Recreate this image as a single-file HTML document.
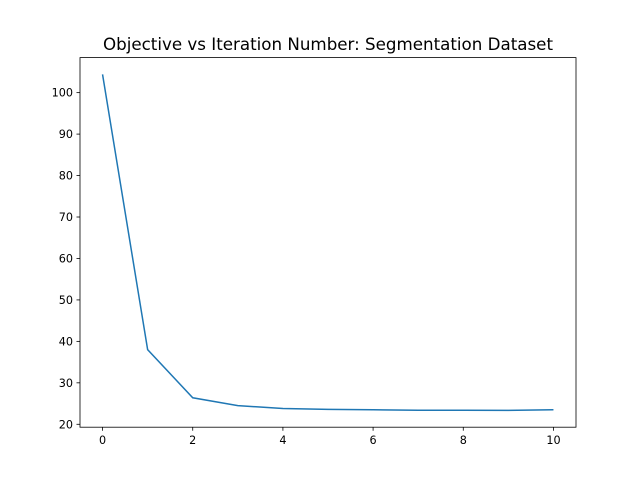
<!DOCTYPE html>
<html><head><meta charset="utf-8"><style>
body{margin:0;background:#fff;}
svg{display:block;font-family:"DejaVu Sans","Liberation Sans",sans-serif;}
</style></head><body>
<svg id="chart" width="640" height="480">
<rect width="640" height="480" fill="#fff"/>
<text x="328" y="50" text-anchor="middle" font-size="16.7">Objective vs Iteration Number: Segmentation Dataset</text>
<g id="ticks"></g>
<polyline id="line" fill="none" stroke="#1f77b4" stroke-width="1.5"/>
<rect x="80" y="57.6" width="496" height="369.6" fill="none" stroke="#000" stroke-width="0.8"/>
</svg>
<script>
const iterations=[0,1,2,3,4,5,6,7,8,9,10];
const objective=[104.4,38.0,26.4,24.5,23.8,23.6,23.5,23.4,23.4,23.35,23.5];
const xTicks=[0,2,4,6,8,10];
const yTicks=[20,30,40,50,60,70,80,90,100];
const L=80,R=576,T=57.6,B=427.2;
const xmin=-0.5,xmax=10.5;
const dmin=Math.min(...objective),dmax=Math.max(...objective),m=(dmax-dmin)*0.05;
const ymin=dmin-m,ymax=dmax+m;
const xs=v=>L+(v-xmin)/(xmax-xmin)*(R-L);
const ys=v=>B-(v-ymin)/(ymax-ymin)*(B-T);
const NS="http://www.w3.org/2000/svg";
const g=document.getElementById('ticks');
function mk(t,a){const e=document.createElementNS(NS,t);for(const k in a)e.setAttribute(k,a[k]);g.appendChild(e);return e;}
xTicks.forEach(v=>{
 const l=mk('line',{x1:xs(v),x2:xs(v),y1:B,y2:B+3.5,stroke:'#000','stroke-width':0.8});
 
 
 const t=mk('text',{x:xs(v),y:B+17,'text-anchor':'middle','font-size':11.2});
 t.textContent=v;
 
 
});
yTicks.forEach(v=>{
 const l=mk('line',{x1:L-3.5,x2:L,y1:ys(v),y2:ys(v),stroke:'#000','stroke-width':0.8});
 
 
 const t=mk('text',{x:L-7,y:ys(v)+4,'text-anchor':'end','font-size':11.2});
 t.textContent=v;
 
 
});
document.getElementById('line').setAttribute('points',iterations.map((x,i)=>xs(x)+','+ys(objective[i])).join(' '));
</script>
</body></html>
